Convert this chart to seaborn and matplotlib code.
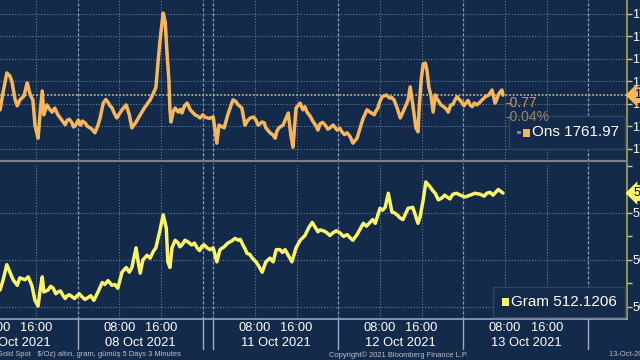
import matplotlib
matplotlib.use("Agg")
import matplotlib.pyplot as plt
import matplotlib.transforms as mtrans
from matplotlib.patches import Rectangle
import pandas as pd
import seaborn as sns

# ---------------- data ----------------
# x = session hours, 07 Oct 2021 00:00 = 0, weekend compressed to 2 h
day_labels = ["07 Oct 2021", "08 Oct 2021", "11 Oct 2021", "12 Oct 2021", "13 Oct 2021"]
day_starts = [0, 24, 50, 74, 98]
day_lines = [24, 48, 50, 74, 98, 122]
time_labels = ["08:00", "16:00"]
time_offsets = [8, 16]

ons_hours = [9.1, 9.7, 10.4, 11.0, 11.4, 12.0, 12.4, 12.9, 13.7, 14.3,
             14.9, 15.4, 15.8, 16.4, 16.8, 17.2, 17.5, 18.1, 18.7, 19.6,
             20.2, 21.2, 22.0, 22.9, 23.5, 24.1, 24.6, 25.4, 26.4, 27.3,
             27.9, 28.3, 28.9, 29.8, 30.6, 31.5, 32.5, 33.3, 33.9, 34.4,
             35.2, 36.0, 36.9, 37.9, 38.5, 39.0, 39.4, 39.8, 40.4, 40.8,
             41.1, 41.5, 41.7, 41.9, 42.3, 42.7, 43.3, 44.0, 45.0, 45.6,
             46.5, 47.5, 48.4, 50.0, 50.7, 51.1, 52.1, 52.8, 53.8, 54.8,
             55.5, 56.1, 57.1, 57.8, 58.6, 59.4, 60.1, 60.9, 61.9, 62.6,
             63.4, 64.4, 64.9, 65.3, 65.9, 66.7, 67.2, 68.0, 69.2, 70.1,
             70.5, 71.5, 72.4, 73.0, 73.8, 74.7, 75.7, 76.3, 76.8, 77.6,
             78.2, 78.8, 79.5, 80.1, 80.9, 81.6, 82.4, 83.2, 83.9, 84.7,
             85.3, 85.9, 86.6, 87.4, 87.8, 88.3, 88.9, 89.3, 89.5, 89.9,
             90.3, 90.7, 91.0, 91.4, 91.8, 92.2, 92.6, 93.1, 93.7, 94.5,
             95.1, 95.6, 96.4, 96.8, 97.8, 98.5, 99.3, 100.1, 100.6, 101.6,
             102.2, 102.9, 103.5, 104.1, 104.7, 105.4, 105.6]
ons_values = [1758.7, 1762.7, 1766.9, 1766.2, 1764.9, 1760.9, 1759.6, 1760.9, 1761.8, 1764.7,
              1762.0, 1760.9, 1755.3, 1752.4, 1758.2, 1762.9, 1757.6, 1759.8, 1758.7, 1759.1,
              1757.6, 1756.0, 1756.4, 1755.8, 1755.1, 1756.4, 1755.3, 1755.8, 1754.7, 1753.6,
              1755.3, 1756.9, 1760.2, 1760.4, 1759.1, 1756.9, 1758.7, 1759.8, 1757.6, 1754.7,
              1756.0, 1757.6, 1759.3, 1760.9, 1762.4, 1763.6, 1769.1, 1774.2, 1780.2, 1778.2,
              1772.0, 1765.3, 1758.7, 1756.0, 1758.2, 1759.1, 1758.2, 1758.0, 1760.2, 1758.7,
              1757.6, 1756.9, 1757.1, 1757.1, 1751.3, 1755.3, 1754.7, 1757.6, 1760.9, 1759.8,
              1759.1, 1755.3, 1756.9, 1757.1, 1755.3, 1756.0, 1754.7, 1753.6, 1752.4, 1754.7,
              1755.3, 1758.0, 1753.1, 1750.4, 1759.1, 1760.2, 1758.7, 1758.2, 1756.0, 1754.2,
              1755.6, 1755.3, 1754.7, 1755.3, 1754.2, 1753.8, 1753.6, 1752.7, 1751.3, 1752.4,
              1754.7, 1756.9, 1758.7, 1758.2, 1757.6, 1759.1, 1761.6, 1762.0, 1761.3, 1760.9,
              1759.1, 1756.9, 1758.7, 1760.9, 1763.8, 1759.8, 1754.7, 1753.8, 1758.7, 1765.3,
              1768.9, 1769.1, 1767.6, 1763.6, 1761.8, 1758.2, 1762.0, 1760.9, 1759.8, 1759.1,
              1758.2, 1759.8, 1760.9, 1761.6, 1760.2, 1760.2, 1759.8, 1760.2, 1759.8, 1760.9,
              1761.6, 1762.0, 1763.1, 1760.2, 1762.0, 1763.1, 1761.97]
# extra readings of the short wiggles between the main turning points
ons_detail_hours = [19.1, 20.7, 21.6, 22.4, 23.2, 24.9, 25.9, 26.8, 29.4, 30.2,
                    31.0, 32.0, 43.7, 44.5, 46.0, 47.0, 48.0, 49.2, 53.3, 54.3,
                    56.6, 58.2, 59.8, 61.4, 62.2, 63.8, 67.6, 68.6, 69.6, 71.0,
                    72.0, 74.3, 75.2, 79.1, 81.2, 82.0, 84.3, 92.9, 94.1, 94.8,
                    96.0, 97.3, 98.1, 98.9, 99.7, 101.1, 103.8, 104.4, 105.0]
ons_detail_values = [1758.2, 1756.8, 1755.4, 1756.6, 1754.9, 1756.2, 1755.0, 1754.3, 1761.0, 1759.6,
                     1758.0, 1757.8, 1758.8, 1759.6, 1758.2, 1757.3, 1757.6, 1756.8, 1759.3, 1760.6,
                     1756.3, 1756.4, 1755.8, 1753.2, 1753.9, 1756.4, 1759.4, 1757.3, 1755.4, 1755.9,
                     1754.4, 1754.6, 1753.2, 1757.6, 1758.4, 1760.6, 1761.4, 1761.2, 1759.5, 1758.8,
                     1759.9, 1760.9, 1759.6, 1760.8, 1759.4, 1760.3, 1761.7, 1761.0, 1762.6]

gram_hours = [9.1, 9.7, 10.4, 11.0, 11.6, 12.4, 12.9, 13.9, 14.5, 15.2,
              15.8, 16.4, 16.8, 17.2, 17.5, 18.3, 19.3, 20.2, 21.2, 22.0,
              22.9, 23.9, 24.8, 26.0, 27.1, 27.9, 28.7, 29.8, 30.6, 31.7,
              32.5, 33.3, 33.9, 34.4, 35.2, 35.6, 36.0, 36.5, 37.3, 37.9,
              38.5, 39.0, 39.8, 40.4, 41.0, 41.3, 41.7, 42.1, 42.7, 43.3,
              44.0, 45.2, 45.9, 46.9, 47.9, 48.8, 50.0, 50.7, 51.3, 52.1,
              52.8, 54.2, 54.8, 55.7, 56.5, 57.5, 58.2, 59.4, 60.1, 60.9,
              61.5, 62.1, 62.8, 63.8, 65.1, 65.9, 66.7, 67.6, 69.0, 70.1,
              70.5, 71.8, 73.0, 74.3, 75.7, 76.8, 77.6, 78.8, 80.1, 81.1,
              82.0, 83.0, 83.6, 84.3, 85.3, 86.4, 87.4, 88.3, 89.3, 89.7,
              90.3, 90.8, 91.6, 92.6, 93.9, 94.9, 96.0, 97.4, 99.3, 101.2,
              102.5, 103.1, 103.7, 104.7, 105.4, 105.6]
gram_values = [501.8, 502.9, 504.5, 503.7, 502.9, 502.3, 503.1, 502.9, 503.2, 502.3,
               500.7, 500.1, 501.8, 503.2, 501.6, 501.8, 502.0, 501.6, 501.2, 501.2,
               501.1, 501.2, 501.1, 501.0, 500.7, 501.6, 502.6, 502.8, 502.3, 502.0,
               503.7, 504.2, 503.7, 504.2, 506.3, 504.8, 503.6, 505.0, 505.5, 505.2,
               505.9, 506.3, 508.2, 509.8, 508.4, 504.8, 504.2, 506.3, 507.1, 506.8,
               506.6, 506.9, 506.6, 506.3, 506.5, 506.3, 506.3, 504.8, 506.1, 506.4,
               506.8, 507.3, 507.1, 506.6, 505.7, 505.2, 504.8, 503.7, 504.8, 505.2,
               504.8, 506.1, 506.1, 506.1, 504.8, 506.3, 507.1, 507.6, 509.0, 508.0,
               508.2, 507.9, 507.9, 507.9, 507.7, 507.1, 507.7, 508.9, 509.0, 508.9,
               510.5, 510.6, 512.1, 510.1, 509.8, 509.3, 510.5, 510.6, 508.9, 509.6,
               511.4, 513.3, 512.8, 512.1, 511.6, 511.7, 512.0, 511.9, 511.9, 512.0,
               512.1, 512.2, 511.9, 512.5, 512.2, 512.12]
gram_detail_hours = [18.8, 19.8, 20.7, 21.6, 22.4, 23.4, 24.3, 25.4, 26.5, 29.2,
                     31.1, 43.6, 44.6, 46.4, 47.4, 48.3, 49.4, 53.5, 55.2, 56.1,
                     57.0, 58.8, 63.3, 64.4, 68.3, 71.2, 72.4, 73.6, 75.0, 76.2,
                     79.4, 80.6, 82.5, 84.8, 85.8, 92.1, 93.2, 94.4, 95.4, 96.7,
                     98.3, 100.2, 102.0, 104.2]
gram_detail_values = [502.2, 501.4, 501.7, 500.9, 501.3, 500.9, 501.4, 500.8, 501.2, 502.4,
                      502.4, 506.4, 507.1, 506.8, 506.0, 506.6, 506.1, 507.0, 507.2, 506.2,
                      505.6, 504.3, 505.8, 505.5, 508.4, 508.1, 507.6, 508.1, 507.5, 507.4,
                      508.6, 509.3, 510.3, 510.0, 509.5, 512.4, 511.4, 511.9, 511.5, 512.1,
                      511.7, 512.1, 511.8, 512.2]

ons_name, ons_last = "Ons", 1761.97
ons_change, ons_change_pct = "-0.77", "-0.04%"
gram_name, gram_last = "Gram", "512.1206"
ons_ticks = [1750, 1755, 1760, 1765, 1770, 1775, 1780]
gram_ticks = [500, 505, 510]
gram_minor = [502.5, 507.5, 515]
footer_left = "Gold Spot   $/Oz) altın, gram, gümüş 5 Days 3 Minutes"
footer_mid = "Copyright© 2021 Bloomberg Finance L.P."
footer_right = "13-Oct-2021 08:05"

ons_df = pd.DataFrame({"hour": ons_hours + ons_detail_hours,
                       "value": ons_values + ons_detail_values}).sort_values("hour")
gram_df = pd.DataFrame({"hour": gram_hours + gram_detail_hours,
                        "value": gram_values + gram_detail_values}).sort_values("hour")

# ---------------- style ----------------
BG = "#132a4b"
ORANGE = "#f7b65b"
YELLOW = "#f9f36a"
GRID = "#6a7d9a"
sns.set_theme(style="dark")
plt.rcParams["font.family"] = ["Liberation Sans", "DejaVu Sans"]

W, H = 640, 360
fig = plt.figure(figsize=(6.4, 3.6), dpi=100, facecolor=BG)
ax1 = fig.add_axes([0, 1 - 161 / H, 627 / W, 161 / H])
ax2 = fig.add_axes([0, 1 - 319 / H, 627 / W, 156 / H])

xlim = (9.09, 129.4)
major_x = [d + o for d in day_starts for o in time_offsets]
minor_x = [d + o for d in day_starts for o in (4, 12, 20)]

# series
sns.lineplot(data=ons_df, x="hour", y="value", ax=ax1, color=ORANGE, lw=2.5,
             estimator=None, zorder=5)
sns.lineplot(data=gram_df, x="hour", y="value", ax=ax2, color=YELLOW, lw=2.5,
             estimator=None, zorder=5)

for ax in (ax1, ax2):
    ax.set_facecolor(BG)
    ax.yaxis.tick_right()
    for s in ("left", "top"):
        ax.spines[s].set_visible(False)
    ax.spines["right"].set_color("#a9a84e")
    ax.spines["right"].set_linewidth(1.2)
    ax.set_xticks(major_x)
    ax.set_xticks(minor_x, minor=True)
    ax.tick_params(axis="y", which="both", direction="out", length=3.5, width=1,
                   color="#c9c79a", labelcolor="white", labelsize=9, pad=0.5)
    ax.grid(False)
    for xv in major_x:
        ax.axvline(xv, color=GRID, lw=0.8, ls=(0, (1, 1.6)), zorder=1)
    for xv in day_lines:
        ax.axvline(xv, color="#8e9db5", lw=0.9, ls=(0, (2.5, 1.5)), zorder=1)
    ax.set_xlabel("")
    ax.set_ylabel("")
    ax.set_xlim(*xlim)

# top panel
ax1.set_ylim(1747.33, 1783.11)
ax1.set_yticks(ons_ticks)
ax1.set_yticklabels([str(t) for t in ons_ticks])
for yv in ons_ticks:
    ax1.axhline(yv, color=GRID, lw=0.8, ls=(0, (1, 1.6)), zorder=1)
ax1.axhline(ons_last, color="#b9aa7c", lw=1.3, ls=(0, (1, 1)), zorder=2)
ax1.spines["bottom"].set_color("#7d8088")
ax1.spines["bottom"].set_linewidth(1.6)
ax1.tick_params(axis="x", which="both", length=0, labelbottom=False)

# bottom panel
ax2.set_ylim(498.72, 515.32)
ax2.set_yticks(gram_ticks)
ax2.set_yticklabels([str(t) for t in gram_ticks])
ax2.set_yticks(gram_minor, minor=True)
for yv in gram_ticks:
    ax2.axhline(yv, color=GRID, lw=0.8, ls=(0, (1, 1.6)), zorder=1)
ax2.spines["bottom"].set_color("#9aa3b5")
ax2.spines["bottom"].set_linewidth(1.2)
ax2.tick_params(axis="x", which="both", direction="out", length=3, width=0.8,
                color="#9aa3b5", labelbottom=False)

# x labels (drawn as text so partially visible ones at the edges appear)
tr = mtrans.blended_transform_factory(ax2.transData, fig.transFigure)
for d, lab in zip(day_starts, day_labels):
    for o, tl in zip(time_offsets, time_labels):
        ax2.text(d + o, 1 - 328 / H, tl, transform=tr, ha="center", va="center",
                 color="white", fontsize=9.3, clip_on=False)
    ax2.text(d + 12, 1 - 343 / H, lab, transform=tr, ha="center", va="center",
             color="white", fontsize=9.3, clip_on=False)
for xv in day_lines:
    ax2.plot([xv, xv], [1 - 319 / H, 1 - 349 / H], transform=tr, color="#a3abbb",
             lw=1.0, clip_on=False)

# right-hand value tags
ax1.annotate(f"{ons_last:.2f}", xy=(1.0, ons_last), xycoords=("axes fraction", "data"),
             xytext=(5, 0), textcoords="offset points", ha="left", va="center",
             fontsize=9, color="black", annotation_clip=False,
             bbox=dict(boxstyle="larrow,pad=0.15", fc=ORANGE, ec="none"))
ax2.annotate(gram_last, xy=(1.0, float(gram_last)), xycoords=("axes fraction", "data"),
             xytext=(5, 0), textcoords="offset points", ha="left", va="center",
             fontsize=9, color="black", annotation_clip=False,
             bbox=dict(boxstyle="larrow,pad=0.15", fc=YELLOW, ec="none"))

# legend boxes
def legend_box(x0, y0, x1, y1, color, name, value, small, tx, sq):
    fig.patches.append(Rectangle((x0 / W, 1 - y1 / H), (x1 - x0) / W, (y1 - y0) / H,
                                 transform=fig.transFigure, fc=BG, ec="#2f4566", lw=1.0, zorder=20))
    cy = (y0 + y1) / 2
    if small:
        fig.patches.append(Rectangle(((sq - 6) / W, 1 - (cy + 1.5) / H), 3.5 / W, 3.5 / H,
                                     transform=fig.transFigure, fc="#7c8597", ec="none", zorder=21))
    fig.patches.append(Rectangle((sq / W, 1 - (cy + 4) / H), 7 / W, 8 / H,
                                 transform=fig.transFigure, fc=color, ec="none", zorder=21))
    fig.text(tx / W, 1 - cy / H, f"{name} {value}", color="white", fontsize=11,
             va="center", ha="left", zorder=22)

legend_box(509, 116, 625, 149, ORANGE, ons_name, f"{ons_last:.2f}", True, 532, 523)
legend_box(493, 287, 625, 317, YELLOW, gram_name, gram_last, False, 511, 502)

# change labels (drawn over the legend frame, as in the source)
fig.text(505 / W, 1 - 103 / H, ons_change, color="#cf9b4c", fontsize=10, va="center",
         ha="left", zorder=30)
fig.text(505 / W, 1 - 117 / H, ons_change_pct, color="#9b8565", fontsize=10, va="center",
         ha="left", zorder=30)

# footer
fig.text(-3 / W, 1 - 355 / H, footer_left, color="#b9c0cc", fontsize=5.4, va="center", ha="left")
fig.text(329 / W, 1 - 355 / H, footer_mid, color="#b9c0cc", fontsize=5.4, va="center", ha="left")
fig.text(609 / W, 1 - 355 / H, footer_right, color="#b9c0cc", fontsize=5.4, va="center", ha="left")

fig.savefig("out.png", dpi=100, facecolor=BG)
